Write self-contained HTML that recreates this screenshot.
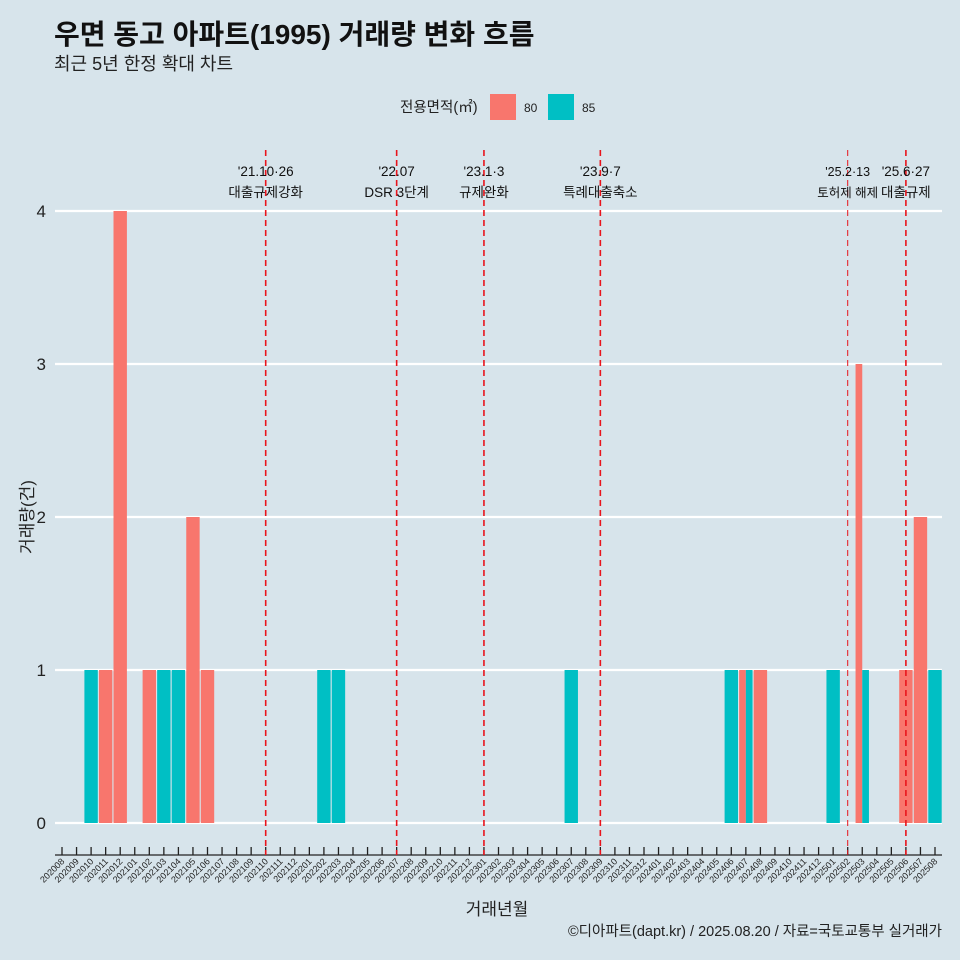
<!DOCTYPE html>
<html><head><meta charset="utf-8"><style>
body{margin:0;background:#d7e4eb;font-family:"Liberation Sans","Noto Sans CJK KR",sans-serif}
</style></head><body>
<svg id="c" width="960" height="960" xmlns="http://www.w3.org/2000/svg" style="display:block">
<rect width="960" height="960" fill="#d7e4eb"/>
<text x="54" y="44" font-size="28" font-weight="bold" fill="#111" font-family="Liberation Sans, Noto Sans CJK KR, sans-serif">우면 동고 아파트(1995) 거래량 변화 흐름</text>
<text x="54" y="70" font-size="18" fill="#222" font-family="Liberation Sans, Noto Sans CJK KR, sans-serif">최근 5년 한정 확대 차트</text>
<g font-family="Liberation Sans, Noto Sans CJK KR, sans-serif">
<text x="400" y="112" font-size="14.5" fill="#222">전용면적(㎡)</text>
<rect x="490" y="94" width="26" height="26" fill="#f8766d"/>
<text x="524" y="112" font-size="12" fill="#222">80</text>
<rect x="548" y="94" width="26" height="26" fill="#00bfc4"/>
<text x="582" y="112" font-size="12" fill="#222">85</text>
</g>
<g id="plot"></g>
<text x="497" y="915" font-size="17" text-anchor="middle" fill="#222" font-family="Liberation Sans, Noto Sans CJK KR, sans-serif">거래년월</text>
<text transform="translate(33,517) rotate(-90)" font-size="17" text-anchor="middle" fill="#222" font-family="Liberation Sans, Noto Sans CJK KR, sans-serif">거래량(건)</text>
<text x="942" y="936" font-size="14.5" text-anchor="end" fill="#222" font-family="Liberation Sans, Noto Sans CJK KR, sans-serif">©디아파트(dapt.kr) / 2025.08.20 / 자료=국토교통부 실거래가</text>
</svg>
<script>
const months=[];for(let y=2020;y<=2025;y++)for(let m=1;m<=12;m++){const k=y*100+m;if(k>=202008&&k<=202508)months.push(String(k));}
const series80={"202011":1,"202012":4,"202102":1,"202105":2,"202106":1,"202407":1,"202408":1,"202503":3,"202506":1,"202507":2};
const series85={"202010":1,"202103":1,"202104":1,"202202":1,"202203":1,"202307":1,"202406":1,"202407":1,"202501":1,"202503":1,"202508":1};
const yTicks=[0,1,2,3,4];
const eventMonths=["202110","202207","202301","202309","202502","202506"];
const eventDates=["'21.10·26","'22.07","'23.1·3","'23.9·7","'25.2·13","'25.6·27"];
const eventLabels=["대출규제강화","DSR 3단계","규제완화","특례대출축소","토허제 해제","대출규제"];
const NS="http://www.w3.org/2000/svg";
const g=document.getElementById('plot');
const x0=62,step=14.55,bw=13.4;
const X=i=>x0+i*step;
const Y=v=>823-v*153;
function mk(t,a){const e=document.createElementNS(NS,t);for(const k in a)e.setAttribute(k,a[k]);g.appendChild(e);return e;}
yTicks.forEach(v=>{
 const l=mk('line',{x1:55,x2:942,y1:Y(v),y2:Y(v),stroke:'#fff','stroke-width':2.2});
 
 
 const t=mk('text',{x:46,y:Y(v)+6,'font-size':17,'text-anchor':'end',fill:'#222'});t.textContent=v;
 
 
});
months.forEach((m,i)=>{
 const a=series80[m],b=series85[m],cx=X(i);
 const both=a!==undefined&&b!==undefined;
 if(a!==undefined){const w=both?bw/2:bw;const r=mk('rect',{x:cx-bw/2,y:Y(a),width:w,height:Y(0)-Y(a),fill:'#f8766d'});
  
  }
 if(b!==undefined){const w=both?bw/2:bw;const r=mk('rect',{x:both?cx:cx-bw/2,y:Y(b),width:w,height:Y(0)-Y(b),fill:'#00bfc4'});
  
  }
 const tk=mk('line',{x1:cx,x2:cx,y1:847,y2:855,stroke:'#222','stroke-width':1.3});
 
 
 const t=mk('text',{transform:`translate(${cx+3},${862}) rotate(-45)`,'font-size':9,'text-anchor':'end',fill:'#222'});t.textContent=m;
 
 
});
const ax=mk('line',{x1:55,x2:942,y1:855,y2:855,stroke:'#222','stroke-width':1.3});


eventMonths.forEach((m,k)=>{
 const cx=X(months.indexOf(m));
 const thin=m==="202502";
 const l=mk('line',{x1:cx,x2:cx,y1:150,y2:855,stroke:'#e8141c','stroke-width':thin?1:1.6,'stroke-dasharray':'6,4'});
 
 
 const fs=thin?12.5:13.5;
 const t1=mk('text',{x:cx,y:176,'font-size':fs,'text-anchor':'middle',fill:'#111'});t1.textContent=eventDates[k];
 
 
 const t2=mk('text',{x:cx,y:197,'font-size':fs,'text-anchor':'middle',fill:'#111'});t2.textContent=eventLabels[k];
 
 
});
</script>
</body></html>
